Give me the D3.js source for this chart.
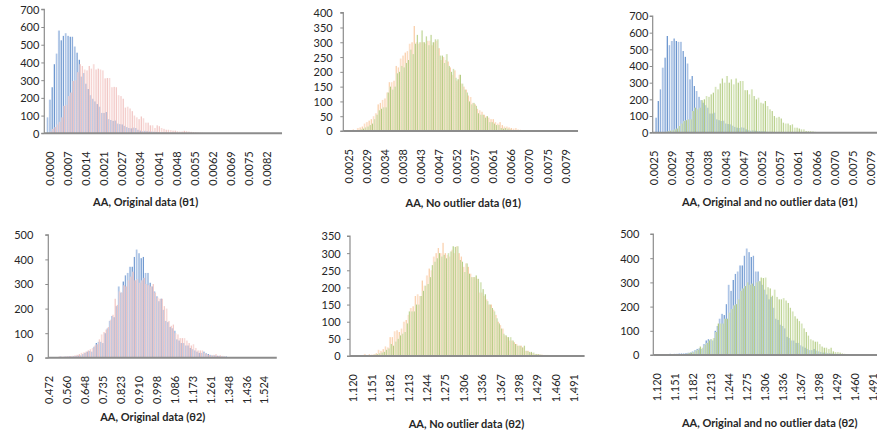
<!DOCTYPE html>
<html>
<head>
<meta charset="utf-8">
<script src="https://cdn.jsdelivr.net/npm/d3@7"></script>
<style>
  body { margin: 0; background: #ffffff; }
  svg { display: block; }
  text { font-family: Lato, "Open Sans", "DejaVu Sans", sans-serif; fill: #262626; }
</style>
</head>
<body>
<svg id="chart" width="877" height="438"></svg>
<script>
// ---- Histogram counts, one value per bin (bin 0 first) ----
const theta1OriginalA = [0,90,190,260,390,450,580,525,550,565,550,545,545,490,455,415,320,340,280,250,215,195,180,165,150,115,115,120,80,75,70,72,55,52,50,42,35,30,28,32,30,20,15,12,14,12,10,10,9,8,6,5,5,4,4,3,3,2,2,2,1,1,1,1,1];
const theta1OriginalB = [0,0,10,25,35,50,65,90,155,160,210,230,295,300,345,390,380,360,355,380,365,390,360,365,360,355,310,312,312,260,262,260,215,210,195,145,150,140,125,100,90,80,95,85,60,60,45,45,30,45,40,30,25,20,20,18,15,15,12,10,10,14,13,10,8,6,6,4,3,3,2,2,1,1,1];
const theta1CleanA = [0,0,0,0,5,3,10,12,15,25,30,35,40,50,60,90,95,105,110,130,165,165,170,220,215,245,255,265,270,295,300,355,300,295,300,300,295,305,305,290,300,305,280,240,250,240,235,215,190,205,170,190,160,150,140,120,115,95,90,75,70,65,55,50,45,40,40,30,25,30,20,15,15,12,10,8,10,5,4,3,3,2,3,1,1];
const theta1CleanB = [0,0,0,0,0,0,3,5,8,12,15,20,25,40,55,70,75,80,80,130,150,140,150,195,200,220,215,230,240,275,260,295,325,300,340,300,320,290,325,300,310,310,255,255,230,260,220,200,210,180,175,190,160,140,130,100,90,95,85,60,55,55,45,50,30,30,25,20,20,10,8,10,8,5,3,2,2,1];
const theta2OriginalA = [0,0,2,3,3,5,4,5,5,6,6,7,8,9,10,15,20,25,28,25,45,60,65,65,60,100,120,150,170,165,210,290,265,310,335,345,370,370,410,440,425,405,410,345,345,305,290,270,250,230,240,195,150,145,125,120,110,75,70,60,60,50,50,40,35,30,25,20,20,25,18,15,12,10,10,8,8,6,5,5,3,2,2,1,1,0,1];
const theta2OriginalB = [2,2,3,3,5,5,5,6,6,7,8,10,12,15,20,22,25,30,35,40,50,55,75,95,105,115,125,155,175,240,215,270,265,295,290,315,330,350,315,320,305,315,325,300,295,290,300,265,245,240,240,210,200,150,130,135,100,95,80,80,80,70,60,50,55,40,30,30,30,20,15,12,10,12,15,8,10,8,5,3,2,2,1];
const theta2CleanA = [0,0,0,0,0,0,6,0,5,4,5,8,18,15,20,28,25,55,55,72,75,70,80,100,105,120,140,145,175,180,175,220,205,235,255,250,290,300,315,300,330,300,295,290,310,300,320,300,290,260,270,260,240,230,230,225,185,185,175,165,150,150,135,120,100,90,80,60,55,45,45,40,35,30,30,25,15,15,10,8,5,5,5,4,3,3,3,2,1];
const theta2CleanB = [0,0,0,0,0,0,0,0,0,3,4,5,8,10,12,18,22,35,30,42,50,60,65,70,95,130,130,130,150,150,175,190,205,210,230,265,275,285,300,290,295,285,300,305,320,318,320,280,275,245,270,240,230,230,235,225,215,195,180,160,150,140,130,110,95,80,65,60,55,55,45,35,30,30,25,30,15,12,12,10,6,5,4,3,3,3,2];

// ---- Category-axis labels (one label every 8 bins) ----
const ticksTheta1Original = ["0.0000","0.0007","0.0014","0.0021","0.0027","0.0034","0.0041","0.0048","0.0055","0.0062","0.0069","0.0075","0.0082"];
const ticksTheta1Clean = ["0.0025","0.0029","0.0034","0.0038","0.0043","0.0047","0.0052","0.0057","0.0061","0.0066","0.0070","0.0075","0.0079"];
const ticksTheta2Original = ["0.472","0.560","0.648","0.735","0.823","0.910","0.998","1.086","1.173","1.261","1.348","1.436","1.524"];
const ticksTheta2Clean = ["1.120","1.151","1.182","1.213","1.244","1.275","1.306","1.336","1.367","1.398","1.429","1.460","1.491"];

// ---- Panel titles ----
const titles = [
  "AA, Original data (θ1)", "AA, No outlier data (θ1)", "AA, Original and no outlier data (θ1)",
  "AA, Original data (θ2)", "AA, No outlier data (θ2)", "AA, Original and no outlier data (θ2)"
];

// ---- Bar styles: light body with a darker right edge ----
const palette = {
  blue:  { light: "#c6d6ee", mid: "#abc3e6", dark: "#5586c6", opacity: 1 },
  pink:  { light: "#fadedc", mid: "#f6cdca", dark: "#eaa9a6", opacity: 0.72 },
  peach: { light: "#fee6d2", mid: "#fcd9bc", dark: "#f8c293", opacity: 0.85 },
  green: { light: "#e0ebcb", mid: "#cde0aa", dark: "#98b955", opacity: 0.8 }
};

// ---- Layout of the six panels ----
const panels = [
  { x0: 44.3,  step: 2.264, n: 105, base: 133.3, top: 9.3,  yMax: 700, yStep: 100, labelK: 2, ticks: ticksTheta1Original, yLabelX: 39.3,
    title: titles[0], titleX: 145.7, titleY: 205.7,
    series: [ { data: theta1OriginalA, shift: 0, style: "blue", off: 0 }, { data: theta1OriginalB, shift: 0, style: "pink", off: 0.4 } ] },
  { x0: 343.3, step: 2.257, n: 104, base: 131,   top: 12.7, yMax: 400, yStep: 50,  labelK: 2, ticks: ticksTheta1Clean, yLabelX: 332.7,
    title: titles[1], titleX: 463.3, titleY: 206.5,
    series: [ { data: theta1CleanA, shift: 0, style: "peach", off: 0 }, { data: theta1CleanB, shift: 0, style: "green", off: 0.4 } ] },
  { x0: 652.7, step: 2.26,  n: 104, base: 132.7, top: 16,   yMax: 700, yStep: 100, labelK: 0, ticks: ticksTheta1Clean, yLabelX: 648.3,
    title: titles[2], titleX: 769.7, titleY: 205.5,
    series: [ { data: theta1OriginalA, shift: 0, style: "blue", off: 0 }, { data: theta1CleanB, shift: -2, style: "green", off: 0.4 } ] },
  { x0: 48.3,  step: 2.24,  n: 102, base: 357.8, top: 234.8, yMax: 500, yStep: 100, labelK: 0, ticks: ticksTheta2Original, yLabelX: 33.3,
    title: titles[3], titleX: 152.8, titleY: 420.5,
    series: [ { data: theta2OriginalA, shift: 0, style: "blue", off: 0 }, { data: theta2OriginalB, shift: 0, style: "pink", off: 0.4 } ] },
  { x0: 350,   step: 2.3,   n: 102, base: 356,   top: 236,  yMax: 350, yStep: 50,  labelK: 1, ticks: ticksTheta2Clean, yLabelX: 340.7,
    title: titles[4], titleX: 466.5, titleY: 428,
    series: [ { data: theta2CleanA, shift: 0, style: "peach", off: 0 }, { data: theta2CleanB, shift: 0, style: "green", off: 0.4 } ] },
  { x0: 653.3, step: 2.254, n: 102, base: 355,   top: 234,  yMax: 500, yStep: 100, labelK: 1, ticks: ticksTheta2Clean, yLabelX: 639.3,
    title: titles[5], titleX: 769.7, titleY: 427,
    series: [ { data: theta2OriginalA, shift: 2, style: "blue", off: 0 }, { data: theta2CleanB, shift: 3, style: "green", off: 0.4 } ] }
];

const svg = d3.select("#chart");
const defs = svg.append("defs");

// one horizontal gradient per style (bounding-box units, so it suits every bar)
Object.entries(palette).forEach(([name, c]) => {
  const g = defs.append("linearGradient").attr("id", "grad-" + name)
    .attr("x1", "0%").attr("x2", "100%").attr("y1", "0%").attr("y2", "0%");
  g.append("stop").attr("offset", "0%").attr("stop-color", c.light);
  g.append("stop").attr("offset", "60%").attr("stop-color", c.mid);
  g.append("stop").attr("offset", "75%").attr("stop-color", c.dark);
  g.append("stop").attr("offset", "100%").attr("stop-color", c.dark);
});

panels.forEach(p => {
  const g = svg.append("g");
  const bins = d3.range(p.n);
  const x = d3.scaleBand().domain(bins).range([p.x0, p.x0 + p.n * p.step]).padding(0);
  const y = d3.scaleLinear().domain([0, p.yMax]).range([p.base, p.top]);
  const bw = x.bandwidth();

  // bars of each series
  p.series.forEach(s => {
    const c = palette[s.style];
    const pts = s.data.map((v, i) => ({ k: i + s.shift, v })).filter(d => d.v > 0 && d.k >= 0 && d.k < p.n);
    g.append("g").attr("opacity", c.opacity)
      .selectAll("rect").data(pts).join("rect")
      .attr("x", d => x(d.k) + s.off * bw)
      .attr("width", bw * 0.7)
      .attr("y", d => y(d.v))
      .attr("height", d => y(0) - y(d.v))
      .attr("fill", `url(#grad-${s.style})`);
  });

  // value axis with outside ticks
  const yTicks = d3.range(0, p.yMax + 1, p.yStep);
  const yAxis = d3.axisLeft(y).tickValues(yTicks).tickSize(3).tickPadding(0).tickFormat(d3.format("d"));
  const ya = g.append("g").attr("transform", `translate(${p.x0},0)`).call(yAxis);
  ya.select(".domain").attr("stroke", "#8c8c8c").attr("stroke-width", 1.2).attr("d", `M-3,${p.top}H0V${p.base}H-3`);
  ya.selectAll(".tick line").attr("stroke", "#8c8c8c").attr("stroke-width", 1);
  ya.selectAll(".tick text").attr("x", p.yLabelX - p.x0).attr("dy", "0.36em")
    .style("font-size", "11px").attr("fill", "#262626").attr("text-anchor", "end");

  // category axis line
  g.append("line").attr("x1", p.x0).attr("x2", p.x0 + p.n * p.step)
    .attr("y1", p.base).attr("y2", p.base)
    .attr("stroke", "#8c8c8c").attr("stroke-width", 2);

  // rotated category labels, every 8th bin
  const labelled = p.ticks.map((t, j) => ({ t, k: p.labelK + 8 * j }));
  g.append("g").selectAll("text").data(labelled).join("text")
    .attr("transform", d => `translate(${x(d.k) + bw / 2},${p.base + 18}) rotate(-90)`)
    .attr("text-anchor", "end").attr("dy", "0.36em")
    .style("font-size", "11px")
    .text(d => d.t);

  // panel title
  g.append("text").attr("x", p.titleX).attr("y", p.titleY)
    .attr("text-anchor", "middle")
    .style("font-size", "11px").style("font-weight", "bold")
    .text(p.title);
});
</script>
</body>
</html>
